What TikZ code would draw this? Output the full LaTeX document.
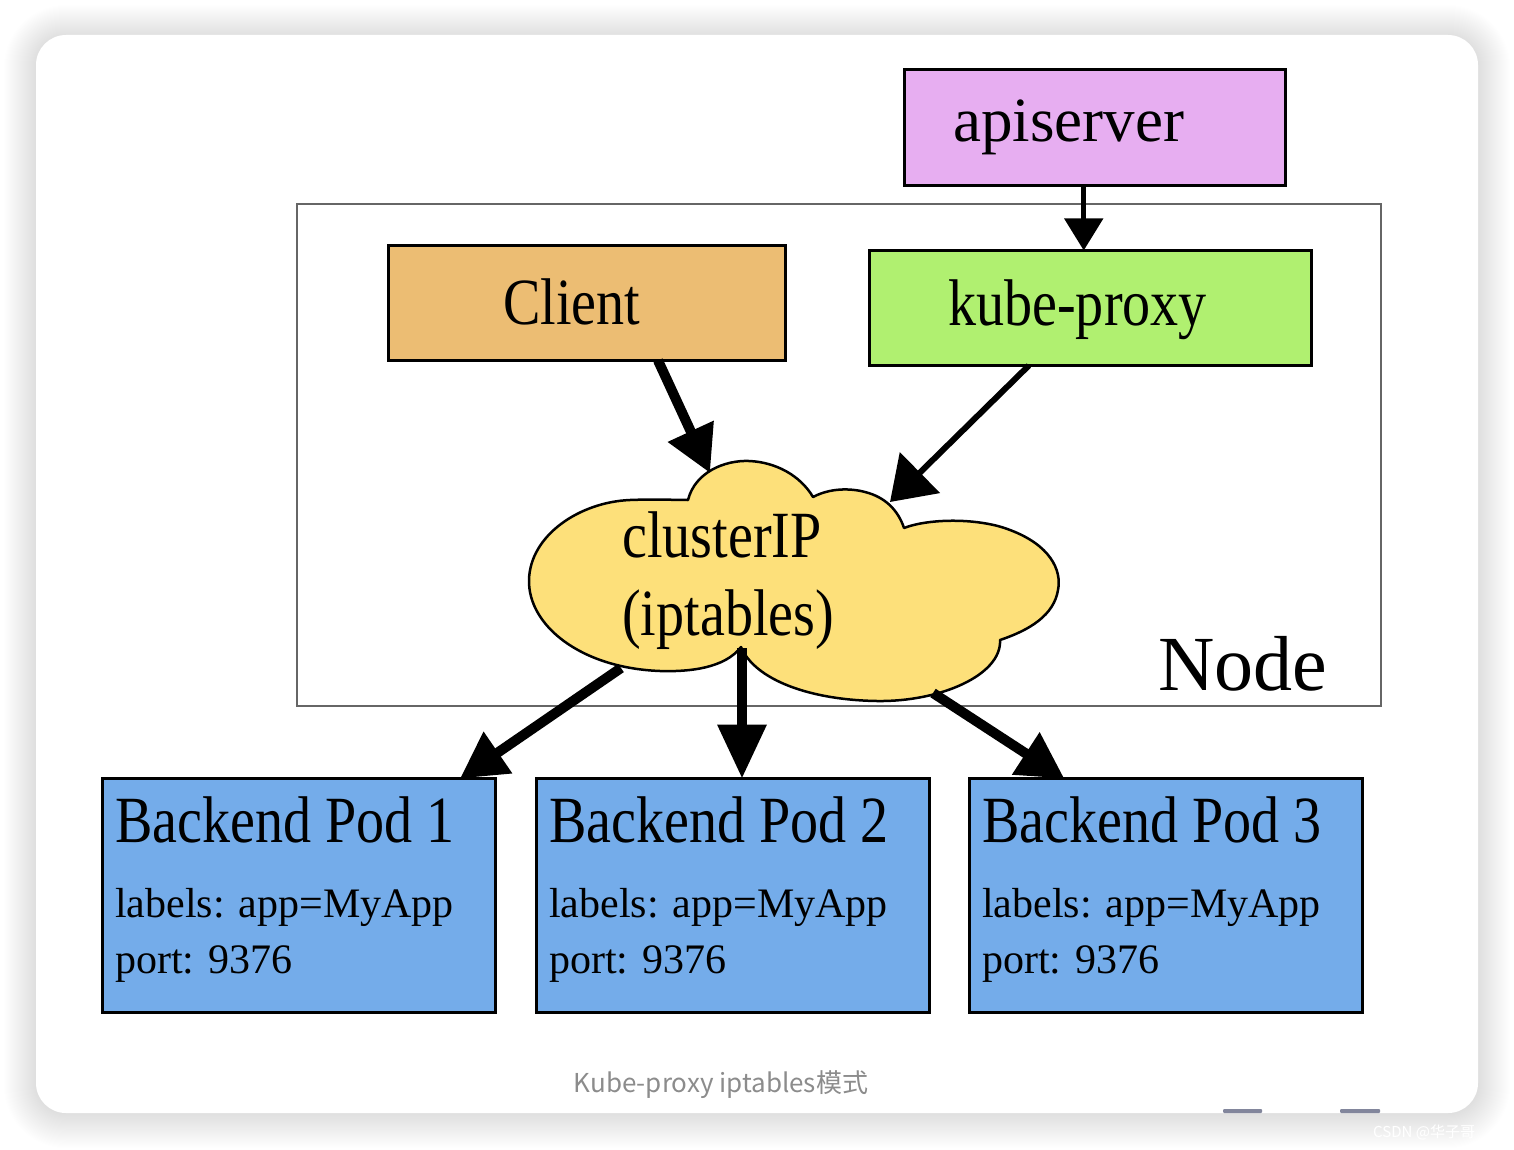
\documentclass[tikz,border=0pt]{standalone}
\usepackage{fontspec}
\setmainfont{Liberation Serif}
\newfontfamily\narrowserif{Liberation Serif}[FakeStretch=0.85]
\newfontfamily\cjksans{Noto Sans CJK SC}
\usetikzlibrary{arrows.meta}

\definecolor{apicolor}{HTML}{E7AEF1}
\definecolor{clientcolor}{HTML}{ECBD73}
\definecolor{proxycolor}{HTML}{B0F070}
\definecolor{cloudcolor}{HTML}{FDE07A}
\definecolor{podcolor}{HTML}{74ACEA}
\definecolor{barcolor}{HTML}{82869C}

\newcommand{\boxfont}{\narrowserif\fontsize{66}{72}\selectfont}
\newcommand{\apifont}{\fontsize{63}{70}\selectfont}
\newcommand{\podfont}{\fontsize{42}{48}\selectfont}
\newcommand{\nodefont}{\fontsize{78}{84}\selectfont}
\newcommand{\capfont}{\cjksans\fontsize{26}{30}\selectfont}

\begin{document}
\begin{tikzpicture}[x = 1pt, y = -1pt,
        box/.style = {draw = black, line width = 3pt, inner sep = 0pt, outer sep = 0pt},
        txt/.style = {anchor = base west, inner sep = 0pt},
        arr/.style = {-{Triangle[length = 46pt, width = 48pt]}, line width = 10pt}]
        \useasboundingbox (0, 0) rectangle (1514, 1150);

        % card with its shadow
        \foreach \s in {1, ..., 32}
          \fill[black, opacity = 0.005, rounded corners = 30 + \s] (36 - \s, 37 - \s) rectangle (1478 + \s, 1113 + 1.1 * \s);
        \fill[white, rounded corners = 30] (36, 35) rectangle (1478, 1113);

        % the node frame
        \node[draw = black!60, line width = 1.8pt, minimum width = 1084pt, minimum height = 502pt] (nodebox) at (839, 455) {};
        \node[txt, font = \nodefont] (nodetext) at (1158, 690) {Node};

        \node[box, fill = apicolor, minimum width = 381pt, minimum height = 116pt] (api) at (1095, 127.5) {};
        \node[txt, font = \apifont] (apitext) at (953, 142) {apiserver};

        \node[box, fill = clientcolor, minimum width = 397pt, minimum height = 115pt] (client) at (587, 303) {};
        \node[txt, font = \boxfont] (clienttext) at (503, 324) {Client};

        \node[box, fill = proxycolor, minimum width = 442pt, minimum height = 115pt] (proxy) at (1090.5, 308) {};
        \node[txt, font = \boxfont] (proxytext) at (948, 325) {kube-proxy};

        % clusterIP cloud
        \draw[fill = cloudcolor, line width = 2.5pt, line join = round] (688, 500)
          .. controls (695, 472) and (725, 460) .. (749, 461)
          .. controls (775, 462) and (800, 475) .. (813, 497)
          .. controls (830, 488) and (850, 488) .. (865, 492)
          .. controls (885, 497) and (898, 510) .. (904, 528)
          .. controls (930, 518) and (980, 518) .. (1010, 530)
          .. controls (1050, 545) and (1062, 570) .. (1058, 590)
          .. controls (1054, 615) and (1030, 630) .. (1000, 640)
          .. controls (1002, 675) and (940, 702) .. (877, 701)
          .. controls (810, 700) and (755, 680) .. (741, 647)
          .. controls (725, 668) and (690, 672) .. (660, 671)
          .. controls (580, 668) and (528, 625) .. (529, 580)
          .. controls (530, 535) and (580, 502) .. (630, 500)
          .. controls (655, 499) and (675, 500) .. (688, 500) -- cycle;
        \coordinate (cin1) at (710, 473);
        \coordinate (cin2) at (890, 502);
        \coordinate (cout1) at (621, 668);
        \coordinate (cout2) at (742, 648);
        \coordinate (cout3) at (933, 693);
        \node[txt, font = \boxfont] (cloudtop) at (622, 557) {clusterIP};
        \node[txt, font = \boxfont] (cloudbottom) at (622, 635) {(iptables)};

        % backend pods
        \node[box, fill = podcolor, minimum width = 393pt, minimum height = 234pt] (pod1) at (299, 895.5) {};
        \node[txt, font = \boxfont] (pod1title) at (115, 842) {Backend Pod 1};
        \node[txt, font = \podfont] (pod1labels) at (115, 917) {labels: app=MyApp};
        \node[txt, font = \podfont] (pod1port) at (115, 973) {port: 9376};

        \node[box, fill = podcolor, minimum width = 393pt, minimum height = 234pt] (pod2) at (733, 895.5) {};
        \node[txt, font = \boxfont] (pod2title) at (549, 842) {Backend Pod 2};
        \node[txt, font = \podfont] (pod2labels) at (549, 917) {labels: app=MyApp};
        \node[txt, font = \podfont] (pod2port) at (549, 973) {port: 9376};

        \node[box, fill = podcolor, minimum width = 393pt, minimum height = 234pt] (pod3) at (1166, 895.5) {};
        \node[txt, font = \boxfont] (pod3title) at (982, 842) {Backend Pod 3};
        \node[txt, font = \podfont] (pod3labels) at (982, 917) {labels: app=MyApp};
        \node[txt, font = \podfont] (pod3port) at (982, 973) {port: 9376};

        % arrows
        \draw[-{Triangle[length = 32pt, width = 38pt]}, line width = 5pt] (api.-101) -- (api.-101 |- proxy.north);
        \draw[arr] (client.-39) -- (cin1);
        \draw[-{Triangle[length = 42pt, width = 56pt]}, line width = 6pt] (proxy.223) -- (cin2);
        \draw[arr] (cout1) -- (pod1.36);
        \draw[-{Triangle[length = 54pt, width = 47pt]}, line width = 10pt] (cout2) -- (cout2 |- pod2.north);
        \draw[arr] (cout3) -- (pod3.131);

        % caption and page furniture
        \node[anchor = base, font = \capfont, text = black!45] (caption) at (721, 1092) {Kube-proxy iptables模式};
        \fill[barcolor, rounded corners = 1] (1223, 1109) rectangle (1262, 1113);
        \fill[barcolor, rounded corners = 1] (1340, 1109) rectangle (1380, 1113);
        \node[anchor = base west, inner sep = 0pt, font = \cjksans\fontsize{15}{18}\selectfont, text = white] (mark) at (1373, 1137) {CSDN @华子哥};

      \end{tikzpicture}
\end{document}
